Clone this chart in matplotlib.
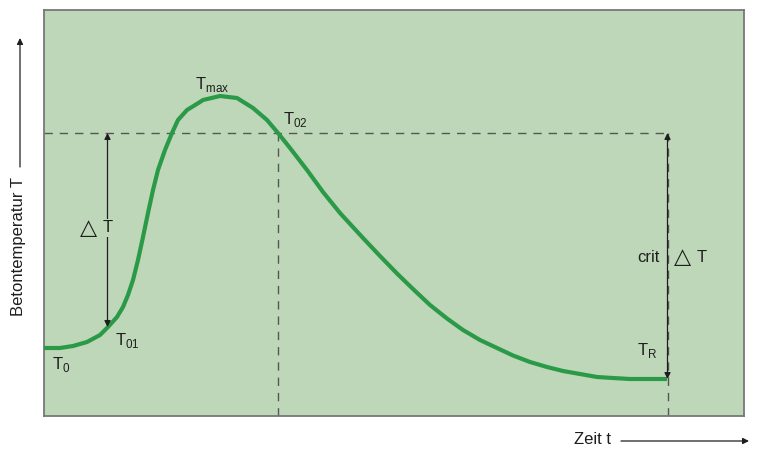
import matplotlib.pyplot as plt
from matplotlib.patches import FancyArrowPatch

plt.rcParams['font.family'] = ['Liberation Sans', 'DejaVu Sans']
plt.rcParams['mathtext.fontset'] = 'custom'
plt.rcParams['mathtext.rm'] = 'Liberation Sans'

# curve (t = time, T = concrete temperature, arbitrary units)
zeit = [0, 16, 29, 43, 56, 64, 73, 79, 84, 89, 94, 99, 104, 109, 114, 121, 128, 134,
        143, 156, 159, 176, 193, 209, 223, 234, 246, 263, 279, 296, 319, 336, 353, 369,
        386, 403, 419, 436, 453, 469, 486, 503, 519, 536, 553, 569, 586, 604, 623]
temp = [68, 68, 70, 74, 81, 89, 99, 109, 121, 136, 156, 179, 203, 226, 246, 266, 283, 296,
        306, 314, 316, 320, 318, 308, 296, 283, 268, 246, 224, 203, 178, 160, 142.5, 127,
        111, 97.5, 86, 76, 68, 60.5, 54, 49, 45, 42, 39, 38, 37, 37, 37]

t01, T01 = 63.5, 89      # start of delta T
t02, T02 = 233.5, 283    # crit level
tR, TR = 623.5, 37       # end

bg = '#bfd7b9'
green = '#2a9a48'
ink = '#1e1e1e'

fig = plt.figure(figsize=(7.57, 4.5), dpi=100)
ax = fig.add_axes([44 / 757, 34 / 450, 700 / 757, 406 / 450])
ax.set_facecolor(bg)
ax.set_xlim(0, 700)
ax.set_ylim(0, 406)
ax.set_xticks([])
ax.set_yticks([])
for s in ax.spines.values():
    s.set_color('#777777')
    s.set_linewidth(1.3)

dash = dict(color='#555555', lw=1.0, dashes=(6, 5))
ax.plot([0, tR], [T02, T02], **dash)
ax.plot([t02, t02], [0, T02], **dash)
ax.plot([tR, tR], [0, T02], **dash)

ax.plot(zeit, temp, color=green, lw=3.0, solid_capstyle='butt',
        solid_joinstyle='round', zorder=3)

arr = dict(arrowstyle='<|-|>', mutation_scale=9, lw=0.9, color=ink, shrinkA=0, shrinkB=0)
ax.annotate('', xy=(t01, T01), xytext=(t01, T02), arrowprops=arr)
ax.annotate('', xy=(tR, TR), xytext=(tR, T02), arrowprops=arr)

fs = 12
tri = dict(fontsize=16, color=ink, ha='center', va='center',
           family=['DejaVu Sans'], fontweight='bold')
ax.text(44, 188, '△', **tri)
ax.text(t01, 188, 'T', fontsize=fs, color=ink, ha='center', va='center',
        bbox=dict(facecolor=bg, edgecolor='none', pad=1))
ax.text(616, 159, 'crit', fontsize=fs, color=ink, ha='right', va='center')
ax.text(639, 159, '△', **tri)
ax.text(658, 159, 'T', fontsize=fs, color=ink, ha='center', va='center')

ax.text(8, 52, r'T$_0$', fontsize=fs, color=ink, ha='left', va='center')
ax.text(71, 76, r'T$_{01}$', fontsize=fs, color=ink, ha='left', va='center')
ax.text(151, 331, r'T$_{\mathrm{max}}$', fontsize=fs, color=ink, ha='left', va='center')
ax.text(239, 296, r'T$_{02}$', fontsize=fs, color=ink, ha='left', va='center')
ax.text(593, 66, r'T$_{\mathrm{R}}$', fontsize=fs, color=ink, ha='left', va='center')

# axis captions with arrows outside the frame
fig.text(19 / 757, 1 - 246 / 450, 'Betontemperatur T', rotation=90, fontsize=fs,
         color=ink, ha='center', va='center')
fig.text(611 / 757, 1 - 440 / 450, 'Zeit t', fontsize=fs, color=ink, ha='right', va='center')
head = dict(arrowstyle='-|>', mutation_scale=9, lw=0.9, color=ink, shrinkA=0, shrinkB=0)
fig.add_artist(FancyArrowPatch((20 / 757, 1 - 167 / 450), (20 / 757, 1 - 38 / 450),
                               transform=fig.transFigure, **head))
fig.add_artist(FancyArrowPatch((621 / 757, 1 - 441 / 450), (749 / 757, 1 - 441 / 450),
                               transform=fig.transFigure, **head))

fig.savefig('out.png', dpi=100, facecolor='white')
